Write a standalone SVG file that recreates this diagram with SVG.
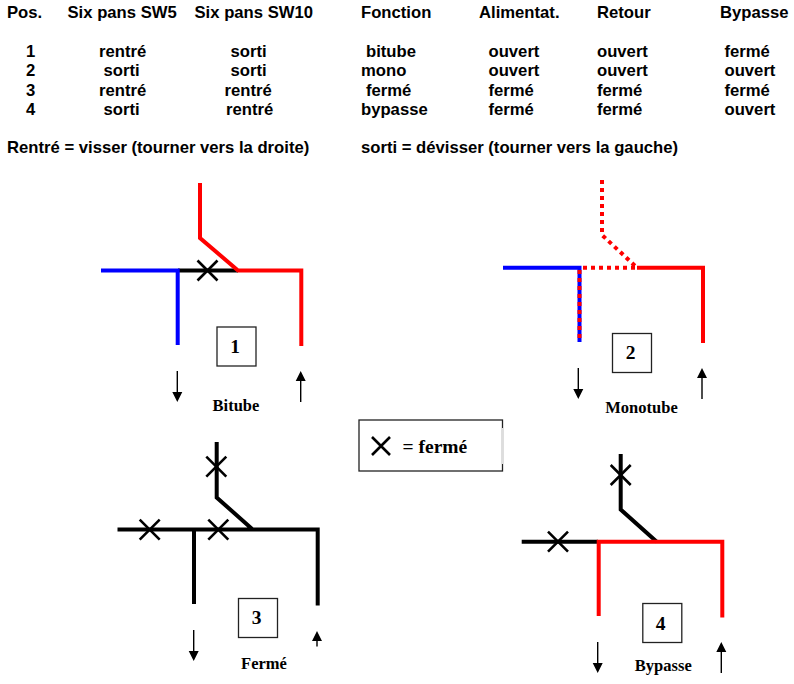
<svg xmlns="http://www.w3.org/2000/svg" width="794" height="684" viewBox="0 0 794 684">
<style>
.t{font-family:"Liberation Sans",Arial,sans-serif;font-weight:700;font-size:16.67px;fill:#000}
.s{font-family:"Liberation Serif","Times New Roman",serif;font-weight:700;fill:#000}
.num{font-size:19.5px;text-anchor:middle}
.cap{font-size:16.5px;text-anchor:middle}
.p{fill:none;stroke-width:4;stroke-linejoin:miter}
.k{stroke:#000}.r{stroke:#f00}.b{stroke:#00f}
.d{stroke-dasharray:4 4}
.x{fill:none;stroke:#000;stroke-width:2.6}
.box{fill:#fff;stroke:#222;stroke-width:1.3}
.ar{fill:none;stroke:#000;stroke-width:1.4}
.h{fill:#000}
</style>
<rect width="794" height="684" fill="#fff"/>
<g id="table">
<text class="t" x="7" y="18">Pos.</text>
<text class="t" x="67.5" y="18">Six pans SW5</text>
<text class="t" x="194.5" y="18">Six pans SW10</text>
<text class="t" x="361" y="18">Fonction</text>
<text class="t" x="479" y="18">Alimentat.</text>
<text class="t" x="597" y="18">Retour</text>
<text class="t" x="720" y="18">Bypasse</text>
<text class="t" x="26" y="57">1</text><text class="t" x="99" y="57">rentré</text><text class="t" x="230.500" y="57">sorti</text><text class="t" x="366" y="57">bitube</text><text class="t" x="488.500" y="57">ouvert</text><text class="t" x="597" y="57">ouvert</text><text class="t" x="724.500" y="57">fermé</text>
<text class="t" x="26" y="76">2</text><text class="t" x="103.500" y="76">sorti</text><text class="t" x="230.500" y="76">sorti</text><text class="t" x="361" y="76">mono</text><text class="t" x="488.500" y="76">ouvert</text><text class="t" x="597" y="76">ouvert</text><text class="t" x="724.500" y="76">ouvert</text>
<text class="t" x="26" y="95.500">3</text><text class="t" x="99" y="95.500">rentré</text><text class="t" x="224.500" y="95.500">rentré</text><text class="t" x="366" y="95.500">fermé</text><text class="t" x="488.500" y="95.500">fermé</text><text class="t" x="597" y="95.500">fermé</text><text class="t" x="724.500" y="95.500">fermé</text>
<text class="t" x="26" y="114.500">4</text><text class="t" x="103.500" y="114.500">sorti</text><text class="t" x="226" y="114.500">rentré</text><text class="t" x="361" y="114.500">bypasse</text><text class="t" x="488.500" y="114.500">fermé</text><text class="t" x="597" y="114.500">fermé</text><text class="t" x="724.500" y="114.500">ouvert</text>
<text class="t" x="7" y="152.500">Rentré = visser (tourner vers la droite)</text>
<text class="t" x="361" y="152.500">sorti = dévisser (tourner vers la gauche)</text>
</g>
<g id="connectors">
<!-- 1 -->
<path class="p k" d="M178 270.500H238"/>
<path class="p b" d="M101 270.500H177.700V345"/>
<path class="p r" d="M200 183V238L238 270.500H301.300V346"/>
<path class="ar" d="M177.300 371V393M300.700 402V380"/>
<path class="h" d="M172.300 392H182.300L177.300 402ZM295.700 381H305.700L300.700 371Z"/>
<!-- 2 -->
<path class="p b" d="M503 267.700H579.500V342"/>
<path class="p r d" d="M579.500 270V342M583 267.700H637M602 180V235L637 267.700"/>
<path class="p r" d="M637 267.700H703V343"/>
<path class="ar" d="M578.300 368V390M702 399V377"/>
<path class="h" d="M573.300 389H583.300L578.300 399ZM697 378H707L702 368Z"/>
<!-- 3 -->
<path class="p k" d="M117.500 529.500H317.700V605.500M194 529.500V604M216.700 442V497.500L252.700 529.500"/>
<path class="ar" d="M193.700 630V652M317 646.500V640"/>
<path class="h" d="M188.700 651H198.700L193.700 661ZM312 641H322L317 631Z"/>
<!-- 4 -->
<path class="p k" d="M521.700 541.700H598M620.700 454V509.500L656.700 541.700"/>
<path class="p r" d="M598.700 616V541.700H722.300V617.500"/>
<path class="ar" d="M597.700 642V664M721.300 673V651"/>
<path class="h" d="M592.700 663H602.700L597.700 673ZM716.300 652H726.300L721.300 642Z"/>
</g>
<g id="crosses">
<path class="x" d="M197.500 260.500l20 20m0-20l-20 20"/>
<path class="x" d="M139.700 519.700l20 20m0-20l-20 20M208.300 519.700l20 20m0-20l-20 20M206.300 456.700l20 20m0-20l-20 20"/>
<path class="x" d="M548 531.700l20 20m0-20l-20 20M610.700 465l20 20m0-20l-20 20"/>
</g>
<g id="node-1"><rect class="box" x="217" y="327" width="39" height="39"/><text class="s num" x="235" y="353">1</text><text class="s cap" x="236" y="410.500">Bitube</text></g>
<g id="node-2"><rect class="box" x="612.500" y="333.500" width="39" height="39"/><text class="s num" x="630.500" y="359">2</text><text class="s cap" x="641.500" y="412.500">Monotube</text></g>
<g id="node-3"><rect class="box" x="238.500" y="598.500" width="39" height="39"/><text class="s num" x="256.500" y="624">3</text><text class="s cap" x="264" y="668.500">Fermé</text></g>
<g id="node-4"><rect class="box" x="642.800" y="603.500" width="39" height="39"/><text class="s num" x="660.700" y="630">4</text><text class="s cap" x="663.300" y="670.500">Bypasse</text></g>
<g id="legend">
<rect x="359" y="420" width="143.500" height="51" fill="#fff" stroke="#222" stroke-width="1.300"/>
<path d="M502.500 428V464" stroke="#ddd" stroke-width="1.600" fill="none"/>
<path d="M372 437l18 18m0-18l-18 18" fill="none" stroke="#000" stroke-width="2.600"/>
<text class="s" x="402.500" y="452.500" font-size="19.500">= fermé</text>
</g>
</svg>
